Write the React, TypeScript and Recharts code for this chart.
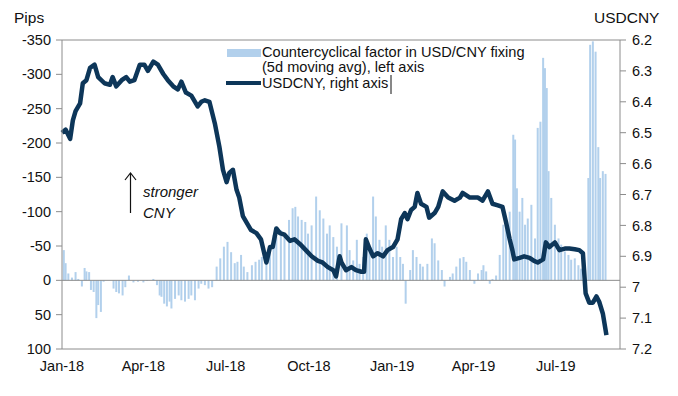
import React from "react";
import { ComposedChart, Bar, Line, XAxis, YAxis, ReferenceLine } from "recharts";

// days counted from 1 Jan 2018
const lineDays = [
  0, 4, 9, 12, 15, 20, 23, 27, 31, 36, 40, 47, 53, 56, 60, 66, 71, 75, 80, 86,
  91, 95, 101, 106, 112, 117, 123, 128, 132, 137, 143, 150, 154, 158, 163, 169, 174, 178, 182, 185,
  189, 193, 196, 200, 204, 209, 215, 220, 226, 230, 233, 237, 241, 246, 252, 257, 263, 268, 276, 283,
  288, 294, 300, 303, 307, 309, 314, 320, 325, 331, 334, 336, 340, 344, 349, 355, 360, 366, 371, 375,
  379, 382, 386, 390, 393, 397, 403, 406, 412, 416, 421, 427, 434, 440, 443, 451, 456, 460, 465, 471,
  476, 482, 487, 491, 495, 498, 500, 506, 511, 517, 522, 526, 532, 535, 539, 545, 550, 556, 561, 567,
  572, 576, 579, 583, 587, 591, 594, 598, 602,
];
const usdcny = [
  6.5, 6.49, 6.52, 6.46, 6.43, 6.405, 6.34, 6.33, 6.29, 6.28, 6.32, 6.34, 6.345, 6.32, 6.35, 6.33, 6.32, 6.335, 6.33, 6.28,
  6.28, 6.3, 6.27, 6.28, 6.31, 6.33, 6.35, 6.36, 6.335, 6.37, 6.38, 6.415, 6.4, 6.395, 6.4, 6.47, 6.545, 6.62, 6.66, 6.63,
  6.62, 6.685, 6.71, 6.77, 6.79, 6.815, 6.825, 6.845, 6.92, 6.87, 6.87, 6.81, 6.825, 6.83, 6.85, 6.845, 6.86, 6.875, 6.9, 6.915,
  6.92, 6.935, 6.945, 6.965, 6.9, 6.92, 6.945, 6.935, 6.945, 6.95, 6.95, 6.845, 6.875, 6.9, 6.89, 6.9, 6.88, 6.87, 6.845, 6.78,
  6.76, 6.78, 6.75, 6.74, 6.695, 6.73, 6.74, 6.775, 6.76, 6.74, 6.69, 6.71, 6.72, 6.71, 6.695, 6.71, 6.71, 6.71, 6.72, 6.69,
  6.73, 6.735, 6.74, 6.79, 6.845, 6.88, 6.91, 6.905, 6.9, 6.905, 6.915, 6.92, 6.91, 6.855, 6.87, 6.855, 6.88, 6.875, 6.875, 6.877,
  6.88, 6.89, 7.02, 7.05, 7.05, 7.03, 7.047, 7.085, 7.155,
];

const barDays = [
  2, 4, 7, 11, 15, 18, 22, 25, 27, 30, 32, 35, 38, 40, 43, 46, 57, 60, 63, 67,
  70, 74, 79, 84, 90, 94, 101, 105, 108, 110, 113, 116, 119, 121, 125, 129, 132, 136, 140, 143,
  147, 151, 154, 158, 162, 166, 171, 175, 179, 183, 187, 191, 194, 198, 201, 205, 210, 214, 218, 221,
  226, 230, 234, 237, 242, 246, 251, 255, 258, 261, 265, 269, 272, 276, 281, 285, 289, 293, 296, 300,
  304, 309, 315, 318, 322, 326, 329, 333, 337, 340, 344, 347, 351, 354, 358, 362, 366, 370, 374, 377,
  380, 385, 388, 392, 396, 399, 404, 409, 412, 416, 420, 423, 429, 432, 436, 440, 444, 447, 451, 456,
  460, 464, 466, 469, 473, 476, 480, 484, 488, 491, 495, 499, 501, 503, 506, 509, 512, 515, 519, 523,
  526, 529, 532, 534, 536, 538, 541, 545, 549, 552, 556, 560, 563, 567, 571, 574, 578, 582, 584, 587,
  590, 593, 595, 598, 601,
];
const factor = [
  -44, -25, -10, -4, -12, -2, 9, -18, -13, -12, 14, 17, 55, 36, 46, 2, 12, 17, 19, 22,
  10, -7, 3, 2, 3, 1, -2, 7, 22, 24, 34, 38, 31, 41, 27, 22, 29, 31, 27, 22,
  29, 12, 5, 7, 12, 10, -20, -32, -49, -56, -41, -25, -27, -37, -20, -12, -22, -27, -30, -34,
  -41, -49, -66, -63, -73, -66, -88, -105, -107, -93, -88, -85, -68, -80, -122, -102, -90, -68, -80, -63,
  -49, -83, -80, -44, -29, -59, -24, -34, -68, -49, -122, -93, -59, -49, -80, -59, -34, -49, -34, -24,
  34, -15, -44, -34, -24, -20, -24, -61, -54, -29, -15, 9, -5, -10, -20, -32, -34, -27, -15, 5,
  -10, -15, -22, -13, 5, -2, -7, -37, -81, -81, -100, -212, -205, -134, -100, -120, -81, -90, -110, -61,
  -222, -231, -324, -309, -280, -159, -120, -81, -61, -52, -42, -37, -30, -32, -22, -17, -12, -149, -343, -348,
  -333, -194, -149, -159, -155,
];

const xTicks = [0, 90, 181, 273, 365, 455, 546];
const xLabels = ["Jan-18", "Apr-18", "Jul-18", "Oct-18", "Jan-19", "Apr-19", "Jul-19"];
const pipsTicks = [-350, -300, -250, -200, -150, -100, -50, 0, 50, 100];
const cnyTicks = [6.2, 6.3, 6.4, 6.5, 6.6, 6.7, 6.8, 6.9, 7, 7.1, 7.2];

type Row = { day: number; usdcny?: number; factor?: number };

const byDay = new Map<number, Row>();
lineDays.forEach((d, i) => {
  byDay.set(d, { ...(byDay.get(d) || { day: d }), usdcny: usdcny[i] });
});
barDays.forEach((d, i) => {
  byDay.set(d, { ...(byDay.get(d) || { day: d }), factor: factor[i] });
});
const data: Row[] = Array.from(byDay.values()).sort((a, b) => a.day - b.day);

const font = "'Liberation Sans', Arial, sans-serif";
const barColor = "#b2d0ec";
const lineColor = "#0d3659";
const axisGray = "#8c8c8c";
const tickStyle = { fontSize: 14.5, fill: "#111", fontFamily: font };

// thin fixed-width bars centred on the library's bar position
const ThinBar = (props: any) => {
  const { x, y, width, height } = props;
  if (x == null || y == null || !height) return null;
  const cx = x + width / 2;
  const top = Math.min(y, y + height);
  return <rect x={cx - 1} y={top} width={2} height={Math.abs(height)} fill={barColor} />;
};

export default function App() {
  return (
    <div style={{ position: "absolute", left: 0, top: 0, width: 678, height: 396, background: "#fff", fontFamily: font }}>
      <ComposedChart width={678} height={396} data={data} margin={{ top: 40, right: 0, bottom: 0, left: 0 }}>
        <XAxis
          dataKey="day"
          type="number"
          domain={[0, 617]}
          ticks={xTicks}
          tickFormatter={(v) => xLabels[xTicks.indexOf(v)] ?? ""}
          height={47}
          tickLine={false}
          tickSize={6}
          tickMargin={6}
          stroke={axisGray}
          tick={tickStyle}
        />
        <YAxis
          yAxisId="left"
          reversed
          domain={[-350, 100]}
          ticks={pipsTicks}
          width={62}
          tickSize={6}
          tickMargin={5}
          stroke={axisGray}
          tick={tickStyle}
        />
        <YAxis
          yAxisId="right"
          orientation="right"
          reversed
          domain={[6.2, 7.2]}
          ticks={cnyTicks}
          width={58}
          tickSize={6}
          tickMargin={6}
          stroke={axisGray}
          tick={{ ...tickStyle, textAnchor: "start" }}
        />
        <ReferenceLine yAxisId="left" y={-350} stroke={axisGray} />
        <Bar yAxisId="left" dataKey="factor" fill={barColor} shape={ThinBar} isAnimationActive={false} />
        <ReferenceLine yAxisId="left" y={0} stroke={axisGray} />
        <Line
          yAxisId="right"
          type="linear"
          dataKey="usdcny"
          stroke={lineColor}
          strokeWidth={4.5}
          strokeLinejoin="round"
          dot={false}
          connectNulls
          isAnimationActive={false}
        />
      </ComposedChart>
      <svg width={678} height={396} style={{ position: "absolute", left: 0, top: 0, pointerEvents: "none" }}>
        <text x={14} y={23} fontSize={15.5} fill="#111" fontFamily={font}>Pips</text>
        <text x={594} y={23} fontSize={15.5} fill="#111" fontFamily={font}>USDCNY</text>
        <rect x={227} y={49} width={34} height={8} fill={barColor} />
        <line x1={226} y1={83} x2={261} y2={83} stroke={lineColor} strokeWidth={4} />
        <text fontSize={14.6} fill="#111" fontFamily={font}>
          <tspan x={262} y={56.5}>Countercyclical factor in USD/CNY fixing</tspan>
          <tspan x={262} y={72}>(5d moving avg), left axis</tspan>
          <tspan x={262} y={87.5}>USDCNY, right axis</tspan>
        </text>
        <line x1={391} y1={75} x2={391} y2={94} stroke="#111" strokeWidth={1} />
        <line x1={130.5} y1={174} x2={130.5} y2={213} stroke="#111" strokeWidth={1.2} />
        <polyline points="125,180 130.5,173 136,180" fill="none" stroke="#111" strokeWidth={1.2} />
        <text fontSize={15} fill="#111" fontFamily={font} fontStyle="italic">
          <tspan x={143} y={197}>stronger</tspan>
          <tspan x={143} y={218}>CNY</tspan>
        </text>
      </svg>
    </div>
  );
}
